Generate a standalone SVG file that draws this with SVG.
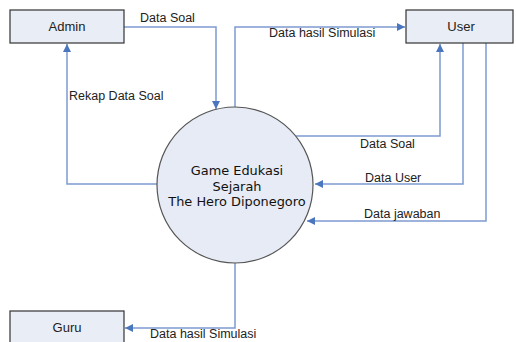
<svg xmlns="http://www.w3.org/2000/svg" width="516" height="342" viewBox="0 0 516 342">
<defs>
<marker id="arr" viewBox="0 0 10 10" refX="10" refY="5" markerWidth="8" markerHeight="8" markerUnits="userSpaceOnUse" orient="auto">
<path d="M0,0 L10,5 L0,10 z" fill="#4a76bf"/>
</marker>
<style>
.box{fill:#e9edf5;stroke:#333;stroke-width:1.2}
.proc{fill:#e6ebf5;stroke:#555;stroke-width:1.2}
.c{fill:none;stroke:#7d9bd0;stroke-width:1.5;marker-end:url(#arr)}
.t{font-family:"Liberation Sans",Arial,sans-serif;font-size:12.5px;fill:#222}
.pt{font-family:"DejaVu Sans",Verdana,sans-serif;font-size:12.9px;fill:#111;text-anchor:middle}
.bt{font-family:"Liberation Sans",Arial,sans-serif;font-size:13px;fill:#222;text-anchor:middle}
</style>
</defs>
<rect width="516" height="342" fill="#fff"/>
<g id="connectors">
<path class="c" d="M124,27 H216 V109"/>
<path class="c" d="M235,107 V27 H405"/>
<path class="c" d="M157,184 H67 V44"/>
<path class="c" d="M296,136 H440 V44"/>
<path class="c" d="M463,43 V184 H315"/>
<path class="c" d="M486,43 V221 H307"/>
<path class="c" d="M235,263 V328 H125"/>
<text class="t" x="140" y="22">Data Soal</text>
<text class="t" x="269" y="37">Data hasil Simulasi</text>
<text class="t" x="69" y="100">Rekap Data Soal</text>
<text class="t" x="360" y="148">Data Soal</text>
<text class="t" x="365" y="182">Data User</text>
<text class="t" x="364" y="218">Data jawaban</text>
<text class="t" x="150" y="338">Data hasil Simulasi</text>
</g>
<g id="admin">
<rect class="box" x="10" y="10" width="114" height="33"/>
<text class="bt" x="67" y="31">Admin</text>
</g>
<g id="user">
<rect class="box" x="406" y="10" width="107" height="33"/>
<text class="bt" x="461" y="31">User</text>
</g>
<g id="guru">
<rect class="box" x="10" y="311" width="114" height="40"/>
<text class="bt" x="67" y="332">Guru</text>
</g>
<g id="process">
<circle class="proc" cx="235" cy="185" r="78"/>
<text class="pt" x="237" y="175">Game Edukasi</text>
<text class="pt" x="237" y="191">Sejarah</text>
<text class="pt" x="237" y="206">The Hero Diponegoro</text>
</g>
</svg>
